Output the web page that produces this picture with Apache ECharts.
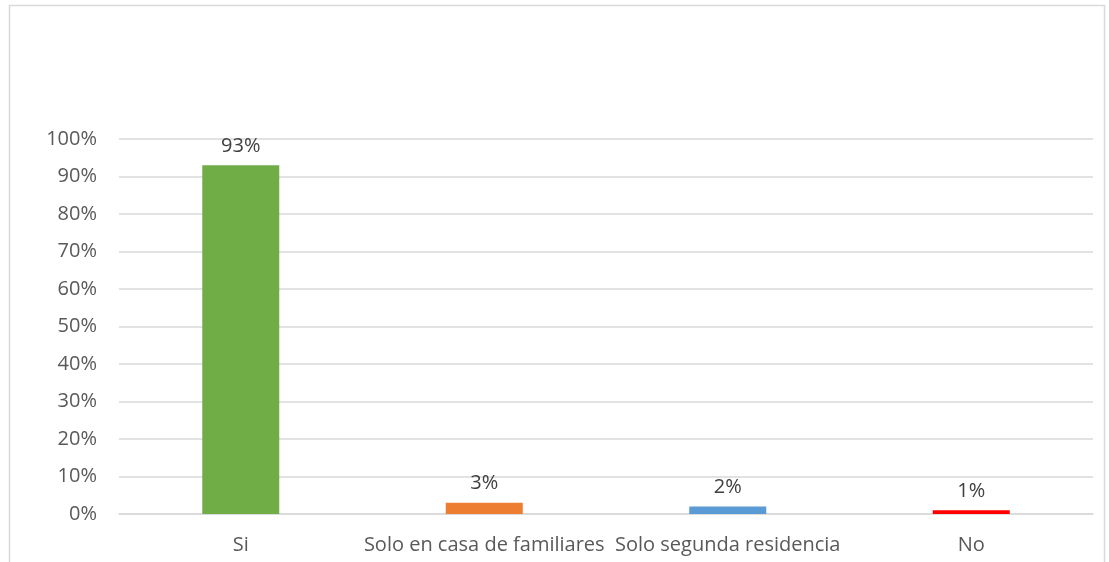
<!DOCTYPE html>
<html>
<head>
<meta charset="utf-8">
<script src="https://cdn.jsdelivr.net/npm/echarts@6/dist/echarts.min.js"></script>
<style>
  html, body { margin: 0; padding: 0; background: #fff; }
  #main { width: 1109px; height: 562px; }
</style>
</head>
<body>
<div id="main"></div>
<script>
// datos
var categorias = ['Si', 'Solo en casa de familiares', 'Solo segunda residencia', 'No'];
var valores = [93, 3, 2, 1];
var colores = ['#70AD47', '#ED7D31', '#5B9BD5', '#FF0000'];

var myChart = echarts.init(document.getElementById('main'));
var fuente = '"Open Sans", "Noto Sans", sans-serif';

var option = {
    animation: false,
    textStyle: { fontFamily: fuente },
    graphic: [
        {
            type: 'rect',
            shape: { x: 9.5, y: 5.5, width: 1095, height: 600 },
            style: { fill: 'none', stroke: '#d9d9d9', lineWidth: 1.5 },
            silent: true
        }
    ],
    grid: { left: 119, right: 16, top: 139, bottom: 48 },
    xAxis: {
        type: 'category',
        data: categorias,
        axisLine: { lineStyle: { color: '#d9d9d9', width: 1.5 } },
        axisTick: { show: false },
        axisLabel: { color: '#595959', fontSize: 20, margin: 21, interval: 0, fontFamily: fuente }
    },
    yAxis: {
        type: 'value',
        min: 0,
        max: 100,
        interval: 10,
        axisLine: { show: false },
        axisTick: { show: false },
        splitLine: { lineStyle: { color: '#d9d9d9', width: 1.5 } },
        axisLabel: {
            color: '#595959', fontSize: 20, margin: 22, fontFamily: fuente,
            formatter: function (v) { return v + '%'; }
        }
    },
    series: [
        {
            type: 'bar',
            barWidth: 77,
            data: valores.map(function (v, i) {
                return { value: v, itemStyle: { color: colores[i] } };
            }),
            label: {
                show: true,
                position: 'top',
                distance: 9,
                color: '#404040',
                fontSize: 20,
                fontFamily: fuente,
                formatter: function (p) { return p.value + '%'; }
            }
        }
    ]
};

myChart.setOption(option, true);
</script>
</body>
</html>
